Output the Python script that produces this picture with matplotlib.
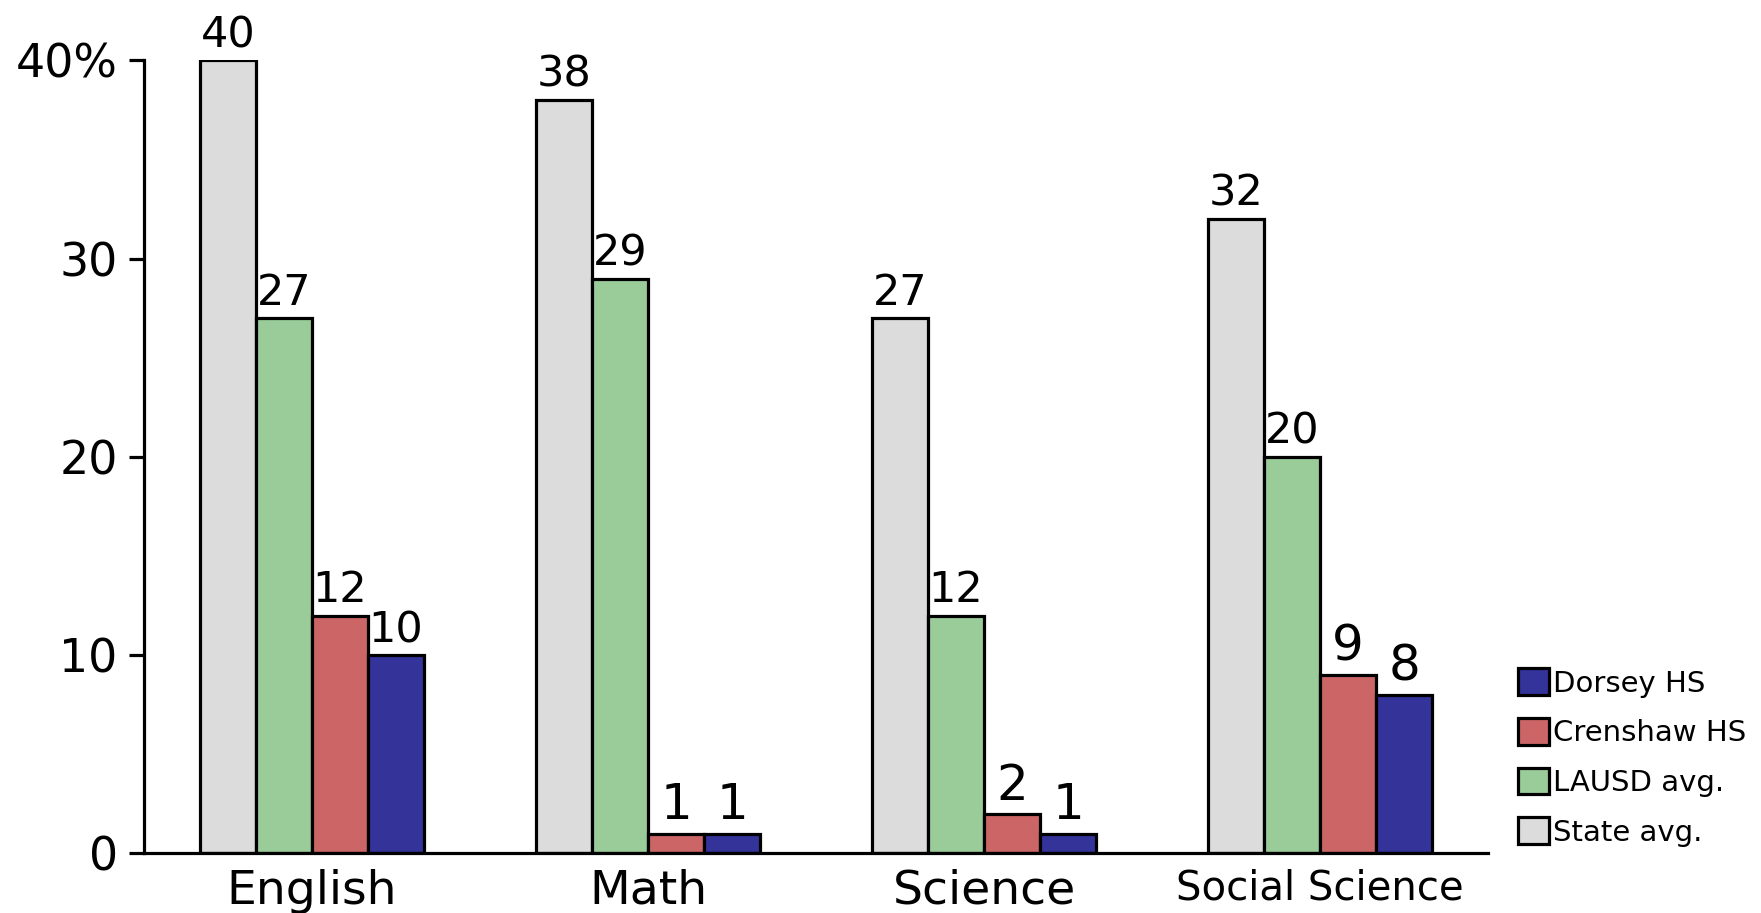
import matplotlib.pyplot as plt
import numpy as np

subjects = ['English', 'Math', 'Science', 'Social Science']
series_names = ['State avg.', 'LAUSD avg.', 'Crenshaw HS', 'Dorsey HS']
state_avg = [40, 38, 27, 32]
lausd_avg = [27, 29, 12, 20]
crenshaw = [12, 1, 2, 9]
dorsey = [10, 1, 1, 8]
colors = ['#dcdcdc', '#99cc99', '#cc6666', '#333399']

values = [state_avg, lausd_avg, crenshaw, dorsey]

fig = plt.figure(figsize=(17.61, 9.13), dpi=100)
ax = fig.add_axes([0.0818, 0.0652, 0.7632, 0.8686])

x = np.arange(len(subjects))
w = 1 / 6
bars = []
for i, (vals, name, c) in enumerate(zip(values, series_names, colors)):
    b = ax.bar(x + (i - 1.5) * w, vals, w, color=c, edgecolor='black',
               linewidth=2.3, label=name, zorder=2)
    bars.append(b)
    for xi, v in zip(x + (i - 1.5) * w, vals):
        size = 36 if v < 10 else 31
        ax.annotate(str(v), (xi, v), xytext=(0, 3), textcoords='offset points',
                    ha='center', va='bottom', fontsize=size, annotation_clip=False)

ax.set_xlim(-0.5, 3.5)
ax.set_ylim(0, 40)
ax.spines['top'].set_visible(False)
ax.spines['right'].set_visible(False)
ax.spines['left'].set_linewidth(2.3)
ax.spines['bottom'].set_linewidth(2.3)

ax.set_yticks([0, 10, 20, 30, 40])
ax.set_yticklabels(['0', '10', '20', '30', '40%'])
ax.tick_params(axis='y', length=11, width=2.3, pad=8, labelsize=33)
ax.set_xticks(x)
ax.set_xticklabels(subjects)
ax.tick_params(axis='x', length=0, pad=11, labelsize=34)
# the last category label is drawn smaller in the original
ax.get_xticklabels()[-1].set_fontsize(29)

handles = bars[::-1]
labels = series_names[::-1]
fig.legend(handles, labels, loc='upper left', bbox_to_anchor=(0.862, 0.268),
           frameon=False, fontsize=21, handlelength=1.05, handleheight=1.03,
           handletextpad=0.15, labelspacing=0.7, borderpad=0, borderaxespad=0)

fig.savefig('out.png', dpi=100)
